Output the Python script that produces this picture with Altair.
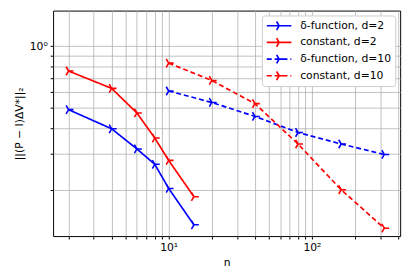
import altair as alt
import pandas as pd

# ---- data ----
n_d2 = [2, 4, 6, 8, 10, 15]
delta_d2 = [0.491, 0.396, 0.316, 0.266, 0.203, 0.135]
const_d2 = [0.757, 0.623, 0.473, 0.357, 0.278, 0.185]

n_d10 = [10, 20, 40, 80, 160, 320]
delta_d10 = [0.605, 0.532, 0.455, 0.380, 0.334, 0.297]
const_d10 = [0.827, 0.681, 0.525, 0.334, 0.200, 0.130]

series_names = ["δ-function, d=2", "constant, d=2", "δ-function, d=10", "constant, d=10"]

x_ticks = [2, 3, 4, 5, 6, 7, 8, 9, 10, 20, 30, 40, 50, 60, 70, 80, 90, 100, 200, 300, 400]
y_ticks = [0.2, 0.3, 0.4, 0.5, 0.6, 0.7, 0.8, 0.9, 1.0]

rows = []
for name, ns, vals in [
    (series_names[0], n_d2, delta_d2),
    (series_names[1], n_d2, const_d2),
    (series_names[2], n_d10, delta_d10),
    (series_names[3], n_d10, const_d10),
]:
    for n, v in zip(ns, vals):
        rows.append({"n": n, "err": v, "series": name})
df = pd.DataFrame(rows)

colors = ["#0000ff", "#ff0000", "#0000ff", "#ff0000"]
dashes = [[1, 0], [1, 0], [5, 3], [5, 3]]

TRI = "M0,0L1,0M0,0L-0.5,-0.866M0,0L-0.5,0.866"
LEG = "M-1,0L1,0M0,0L0.4,0M0,0L-0.2,-0.35M0,0L-0.2,0.35"

FS = 11

x_enc = alt.X(
    "n:Q",
    scale=alt.Scale(type="log", domain=[1.56, 413], nice=False),
    axis=alt.Axis(
        values=x_ticks,
        title="n",
        labelExpr="datum.value == 10 ? '10¹' : datum.value == 100 ? '10²' : ''",
        labelOverlap=False,
        labelFlush=False,
        tickSize=3,
        labelPadding=3,
        titlePadding=4,
    ),
)
y_enc = alt.Y(
    "err:Q",
    scale=alt.Scale(type="log", domain=[0.119, 1.49], nice=False),
    axis=alt.Axis(
        values=y_ticks,
        title="||(P − I)ΔV*||₂",
        labelExpr="datum.value == 1 ? '10⁰' : ''",
        labelOverlap=False,
        labelFlush=False,
        tickSize=3,
        labelPadding=3,
        titlePadding=5,
    ),
)

legend = alt.Legend(
    title=None,
    orient="top-right",
    offset=5,
    symbolType=LEG,
    symbolSize=625,
    symbolStrokeWidth=1.7,
    clipHeight=13,
    rowPadding=4,
    labelOffset=8,
    padding=4,
    fillColor="white",
    strokeColor="#cccccc",
    cornerRadius=3,
    labelFont="DejaVu Sans",
    labelFontSize=FS,
    labelColor="black",
)

color_enc = alt.Color("series:N", scale=alt.Scale(domain=series_names, range=colors), legend=legend)
dash_enc = alt.StrokeDash("series:N", scale=alt.Scale(domain=series_names, range=dashes), legend=legend)

lines = alt.Chart(df).mark_line(strokeWidth=1.7, clip=True).encode(
    x=x_enc, y=y_enc, color=color_enc, strokeDash=dash_enc, order="n:Q"
)
points = alt.Chart(df).mark_point(shape=TRI, size=100, filled=False, strokeWidth=1.6, opacity=1, clip=True).encode(
    x=x_enc, y=y_enc,
    color=alt.Color("series:N", scale=alt.Scale(domain=series_names, range=colors), legend=None),
)

chart = (
    alt.layer(lines, points)
    .properties(
        width=354,
        height=230,
        autosize=alt.AutoSizeParams(type="none"),
        padding={"left": 46, "top": 0, "right": 8, "bottom": 34},
    )
    .configure_view(stroke="black", strokeWidth=1)
    .configure_axis(
        domain=False,
        grid=True,
        gridColor="#b0b0b0",
        gridWidth=0.8,
        tickColor="black",
        labelFont="DejaVu Sans",
        labelFontSize=FS,
        labelColor="black",
        titleFont="DejaVu Sans",
        titleFontSize=FS,
        titleFontWeight="normal",
        titleColor="black",
    )
)

chart.save("out.html", embed_options={"renderer": "svg", "actions": False})
